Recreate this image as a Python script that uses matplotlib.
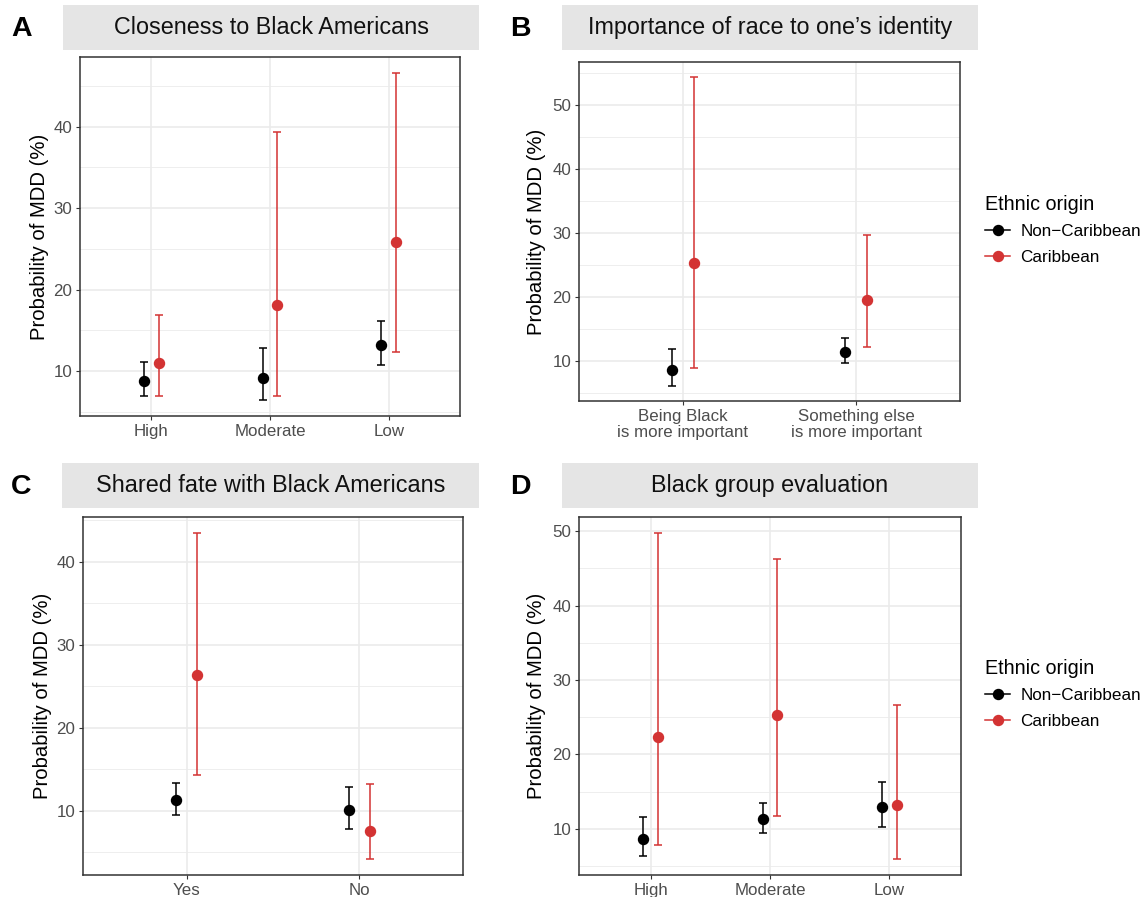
import matplotlib
matplotlib.use("Agg")
import matplotlib.pyplot as plt
from matplotlib.lines import Line2D
from matplotlib.patches import Rectangle
from matplotlib.ticker import MultipleLocator

plt.rcParams['font.family'] = ['Liberation Sans', 'DejaVu Sans']

W, H = 1145, 897
BLACK = '#000000'
RED = '#D33333'

# ---- data (estimates, probability of MDD in %) ----
closeness_cats = ['High', 'Moderate', 'Low']
closeness_non_est = [8.8, 9.2, 13.15]
closeness_non_lo = [6.9, 6.5, 10.7]
closeness_non_hi = [11.15, 12.8, 16.1]
closeness_car_est = [11.0, 18.15, 25.9]
closeness_car_lo = [7.0, 7.0, 12.35]
closeness_car_hi = [16.9, 39.4, 46.55]

race_cats = ['Being Black\nis more important', 'Something else\nis more important']
race_non_est = [8.55, 11.4]
race_non_lo = [6.1, 9.65]
race_non_hi = [11.85, 13.55]
race_car_est = [25.3, 19.4]
race_car_lo = [8.85, 12.1]
race_car_hi = [54.25, 29.65]

fate_cats = ['Yes', 'No']
fate_non_est = [11.3, 10.05]
fate_non_lo = [9.5, 7.75]
fate_non_hi = [13.35, 12.8]
fate_car_est = [26.4, 7.5]
fate_car_lo = [14.35, 4.2]
fate_car_hi = [43.45, 13.2]

eval_cats = ['High', 'Moderate', 'Low']
eval_non_est = [8.65, 11.35, 12.95]
eval_non_lo = [6.4, 9.5, 10.2]
eval_non_hi = [11.65, 13.5, 16.35]
eval_car_est = [22.4, 25.3, 13.15]
eval_car_lo = [7.8, 11.75, 6.0]
eval_car_hi = [49.7, 46.3, 26.7]

groups = ['Non\u2212Caribbean', 'Caribbean']


def px(l, t, r, b):
    return [l / W, 1 - b / H, (r - l) / W, (b - t) / H]


fig = plt.figure(figsize=(W / 100, H / 100), dpi=100)


def draw_panel(rect, cats, non, car, ticks):
    ax = fig.add_axes(px(*rect))
    n = len(cats)
    dodge = 0.0625
    allv = []
    for (est, lo, hi), col, off in [(non, BLACK, -dodge), (car, RED, dodge)]:
        xs = [i + 1 + off for i in range(n)]
        err = [[e - l for e, l in zip(est, lo)], [h - e for e, h in zip(est, hi)]]
        ax.errorbar(xs, est, yerr=err, fmt='o', color=col, ms=7.2, elinewidth=1.1,
                    capsize=2.8, capthick=1.1, zorder=3)
        allv += list(lo) + list(hi)
    lo_, hi_ = min(allv), max(allv)
    pad = (hi_ - lo_) * 0.05
    ax.set_ylim(lo_ - pad, hi_ + pad)
    ax.set_xlim(0.4, n + 0.6)
    ax.set_xticks(range(1, n + 1))
    ax.set_xticklabels(cats, linespacing=1.1)
    ax.set_yticks(ticks)
    ax.yaxis.set_minor_locator(MultipleLocator(5))
    ax.grid(True, which='major', color='#EBEBEB', lw=1.2, zorder=0)
    ax.grid(True, which='minor', axis='y', color='#EBEBEB', lw=0.6, zorder=0)
    ax.set_axisbelow(True)
    for s in ax.spines.values():
        s.set_color('#333333')
        s.set_linewidth(1.1)
    ax.tick_params(which='major', color='#333333', length=3, width=0.8,
                   labelcolor='#4D4D4D', labelsize=12.2, pad=2.5)
    ax.tick_params(which='minor', length=0)
    return ax


def strip(l, t, r, b, text):
    fig.add_artist(Rectangle((l / W, 1 - b / H), (r - l) / W, (b - t) / H,
                             transform=fig.transFigure, facecolor='#E5E5E5',
                             edgecolor='none'))
    fig.text((l + r) / 2 / W, 1 - (t + b) / 2 / H, text, ha='center', va='center',
             fontsize=16.8, color='#111111')


def ylabel(x, y):
    fig.text(x / W, 1 - y / H, 'Probability of MDD (%)', rotation=90,
             ha='center', va='center', fontsize=14.6)


def tag(x, y, s):
    fig.text(x / W, 1 - y / H, s, ha='center', va='center', fontsize=20.5,
             fontweight='bold')


def legend(x, y):
    handles = [Line2D([], [], color=c, marker='o', ms=7.2, lw=1.1)
               for c in (BLACK, RED)]
    lg = fig.legend(handles, groups, loc='upper left',
                    bbox_to_anchor=(x / W, 1 - y / H), frameon=False,
                    title='Ethnic origin', title_fontsize=14.2, fontsize=12.3,
                    handlelength=1.5, handletextpad=0.6, labelspacing=0.62,
                    borderpad=0.45, borderaxespad=0)
    lg._legend_box.align = 'left'


# A
strip(63, 5, 479, 50, 'Closeness to Black Americans')
draw_panel((80, 57, 460, 416), closeness_cats,
           (closeness_non_est, closeness_non_lo, closeness_non_hi),
           (closeness_car_est, closeness_car_lo, closeness_car_hi), [10, 20, 30, 40])
ylabel(40, 236.5)
tag(22, 29, 'A')

# B
strip(562, 5, 978, 50, 'Importance of race to one\u2019s identity')
draw_panel((579, 62, 960, 401), race_cats,
           (race_non_est, race_non_lo, race_non_hi),
           (race_car_est, race_car_lo, race_car_hi), [10, 20, 30, 40, 50])
ylabel(537, 231.5)
tag(520, 29, 'B')
legend(977, 187)

# C
strip(62, 463, 479, 508, 'Shared fate with Black Americans')
draw_panel((83, 517, 463, 875), fate_cats,
           (fate_non_est, fate_non_lo, fate_non_hi),
           (fate_car_est, fate_car_lo, fate_car_hi), [10, 20, 30, 40])
ylabel(43, 696)
tag(21, 487, 'C')

# D
strip(562, 463, 978, 508, 'Black group evaluation')
draw_panel((579, 517, 961, 875), eval_cats,
           (eval_non_est, eval_non_lo, eval_non_hi),
           (eval_car_est, eval_car_lo, eval_car_hi), [10, 20, 30, 40, 50])
ylabel(537, 696)
tag(520, 487, 'D')
legend(977, 651)

fig.savefig('out.png', dpi=100, facecolor='white')
